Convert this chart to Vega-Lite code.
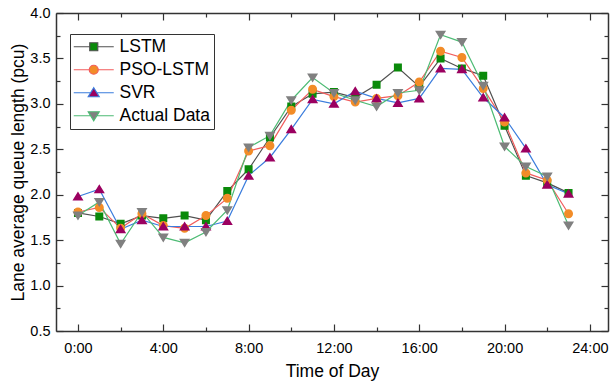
{
  "$schema": "https://vega.github.io/schema/vega-lite/v6.json",
  "width": 552,
  "height": 318,
  "autosize": {"type": "none"},
  "padding": {"left": 56, "top": 13, "right": 2, "bottom": 55},
  "background": "white",
  "config": {
    "view": {"stroke": null},
    "font": "Liberation Sans",
    "axis": {
      "grid": false,
      "domainColor": "#333333",
      "domainWidth": 1.5,
      "tickColor": "#333333",
      "tickWidth": 1.2,
      "labelFont": "Liberation Sans",
      "labelFontSize": 14.5,
      "labelColor": "black",
      "titleFont": "Liberation Sans",
      "titleFontSize": 17.5,
      "titleFontWeight": "normal",
      "titleColor": "black"
    },
    "legend": {
      "orient": "none",
      "legendX": 14,
      "legendY": 21,
      "padding": 4,
      "strokeColor": "#333333",
      "fillColor": "white",
      "symbolSize": 100,
      "symbolOffset": 11,
      "labelOffset": 17,
      "labelFont": "Liberation Sans",
      "labelFontSize": 17.5,
      "labelColor": "black",
      "labelLimit": 300,
      "rowPadding": 4,
      "symbolStrokeWidth": 1.2
    }
  },
  "data": {
    "values": [
      {"hour": 0, "model": "LSTM", "value": 1.80}, {"hour": 1, "model": "LSTM", "value": 1.76}, {"hour": 2, "model": "LSTM", "value": 1.68}, {"hour": 3, "model": "LSTM", "value": 1.77},
      {"hour": 4, "model": "LSTM", "value": 1.74}, {"hour": 5, "model": "LSTM", "value": 1.77}, {"hour": 6, "model": "LSTM", "value": 1.72}, {"hour": 7, "model": "LSTM", "value": 2.04},
      {"hour": 8, "model": "LSTM", "value": 2.28}, {"hour": 9, "model": "LSTM", "value": 2.63}, {"hour": 10, "model": "LSTM", "value": 2.97}, {"hour": 11, "model": "LSTM", "value": 3.11},
      {"hour": 12, "model": "LSTM", "value": 3.13}, {"hour": 13, "model": "LSTM", "value": 3.07}, {"hour": 14, "model": "LSTM", "value": 3.21}, {"hour": 15, "model": "LSTM", "value": 3.40},
      {"hour": 16, "model": "LSTM", "value": 3.19}, {"hour": 17, "model": "LSTM", "value": 3.50}, {"hour": 18, "model": "LSTM", "value": 3.39}, {"hour": 19, "model": "LSTM", "value": 3.31},
      {"hour": 20, "model": "LSTM", "value": 2.76}, {"hour": 21, "model": "LSTM", "value": 2.21}, {"hour": 22, "model": "LSTM", "value": 2.13}, {"hour": 23, "model": "LSTM", "value": 2.02},
      {"hour": 0, "model": "PSO-LSTM", "value": 1.81}, {"hour": 1, "model": "PSO-LSTM", "value": 1.86}, {"hour": 2, "model": "PSO-LSTM", "value": 1.63}, {"hour": 3, "model": "PSO-LSTM", "value": 1.79},
      {"hour": 4, "model": "PSO-LSTM", "value": 1.66}, {"hour": 5, "model": "PSO-LSTM", "value": 1.63}, {"hour": 6, "model": "PSO-LSTM", "value": 1.77}, {"hour": 7, "model": "PSO-LSTM", "value": 1.96},
      {"hour": 8, "model": "PSO-LSTM", "value": 2.48}, {"hour": 9, "model": "PSO-LSTM", "value": 2.54}, {"hour": 10, "model": "PSO-LSTM", "value": 2.93}, {"hour": 11, "model": "PSO-LSTM", "value": 3.16},
      {"hour": 12, "model": "PSO-LSTM", "value": 3.08}, {"hour": 13, "model": "PSO-LSTM", "value": 3.02}, {"hour": 14, "model": "PSO-LSTM", "value": 3.06}, {"hour": 15, "model": "PSO-LSTM", "value": 3.09},
      {"hour": 16, "model": "PSO-LSTM", "value": 3.24}, {"hour": 17, "model": "PSO-LSTM", "value": 3.58}, {"hour": 18, "model": "PSO-LSTM", "value": 3.51}, {"hour": 19, "model": "PSO-LSTM", "value": 3.17},
      {"hour": 20, "model": "PSO-LSTM", "value": 2.80}, {"hour": 21, "model": "PSO-LSTM", "value": 2.24}, {"hour": 22, "model": "PSO-LSTM", "value": 2.16}, {"hour": 23, "model": "PSO-LSTM", "value": 1.79},
      {"hour": 0, "model": "SVR", "value": 1.98}, {"hour": 1, "model": "SVR", "value": 2.06}, {"hour": 2, "model": "SVR", "value": 1.62}, {"hour": 3, "model": "SVR", "value": 1.72},
      {"hour": 4, "model": "SVR", "value": 1.65}, {"hour": 5, "model": "SVR", "value": 1.65}, {"hour": 6, "model": "SVR", "value": 1.65}, {"hour": 7, "model": "SVR", "value": 1.71},
      {"hour": 8, "model": "SVR", "value": 2.21}, {"hour": 9, "model": "SVR", "value": 2.41}, {"hour": 10, "model": "SVR", "value": 2.72}, {"hour": 11, "model": "SVR", "value": 3.05},
      {"hour": 12, "model": "SVR", "value": 3.00}, {"hour": 13, "model": "SVR", "value": 3.14}, {"hour": 14, "model": "SVR", "value": 3.06}, {"hour": 15, "model": "SVR", "value": 3.01},
      {"hour": 16, "model": "SVR", "value": 3.06}, {"hour": 17, "model": "SVR", "value": 3.39}, {"hour": 18, "model": "SVR", "value": 3.38}, {"hour": 19, "model": "SVR", "value": 3.07},
      {"hour": 20, "model": "SVR", "value": 2.85}, {"hour": 21, "model": "SVR", "value": 2.51}, {"hour": 22, "model": "SVR", "value": 2.11}, {"hour": 23, "model": "SVR", "value": 2.01},
      {"hour": 0, "model": "Actual Data", "value": 1.77}, {"hour": 1, "model": "Actual Data", "value": 1.92}, {"hour": 2, "model": "Actual Data", "value": 1.46}, {"hour": 3, "model": "Actual Data", "value": 1.81},
      {"hour": 4, "model": "Actual Data", "value": 1.53}, {"hour": 5, "model": "Actual Data", "value": 1.47}, {"hour": 6, "model": "Actual Data", "value": 1.59}, {"hour": 7, "model": "Actual Data", "value": 1.83},
      {"hour": 8, "model": "Actual Data", "value": 2.52}, {"hour": 9, "model": "Actual Data", "value": 2.65}, {"hour": 10, "model": "Actual Data", "value": 3.04}, {"hour": 11, "model": "Actual Data", "value": 3.29},
      {"hour": 12, "model": "Actual Data", "value": 3.12}, {"hour": 13, "model": "Actual Data", "value": 3.04}, {"hour": 14, "model": "Actual Data", "value": 2.97}, {"hour": 15, "model": "Actual Data", "value": 3.12},
      {"hour": 16, "model": "Actual Data", "value": 3.15}, {"hour": 17, "model": "Actual Data", "value": 3.76}, {"hour": 18, "model": "Actual Data", "value": 3.68}, {"hour": 19, "model": "Actual Data", "value": 3.20},
      {"hour": 20, "model": "Actual Data", "value": 2.53}, {"hour": 21, "model": "Actual Data", "value": 2.31}, {"hour": 22, "model": "Actual Data", "value": 2.20}, {"hour": 23, "model": "Actual Data", "value": 1.66}
    ]
  },
  "resolve": {"axis": {"x": "independent", "y": "independent"}},
  "layer": [
    {
      "mark": {"type": "line", "strokeWidth": 1.2},
      "encoding": {
        "x": {
          "field": "hour", "type": "quantitative",
          "scale": {"domain": [-1.03, 24.85], "nice": false, "zero": false},
          "axis": {
            "orient": "bottom",
            "values": [0, 2, 4, 6, 8, 10, 12, 14, 16, 18, 20, 22, 24],
            "labelExpr": "datum.value % 4 === 0 ? datum.value + ':00' : ''",
            "tickSize": {"condition": {"test": "datum.value % 4 === 0", "value": -7}, "value": -4},
            "labelPadding": 17,
            "title": "Time of Day",
            "titlePadding": 8
          }
        },
        "y": {
          "field": "value", "type": "quantitative",
          "scale": {"domain": [0.5, 4.0], "nice": false, "zero": false},
          "axis": {
            "orient": "left",
            "values": [0.5, 0.75, 1.0, 1.25, 1.5, 1.75, 2.0, 2.25, 2.5, 2.75, 3.0, 3.25, 3.5, 3.75, 4.0],
            "labelExpr": "abs(datum.value * 2 - round(datum.value * 2)) < 0.01 ? format(datum.value, '.1f') : ''",
            "tickSize": {"condition": {"test": "abs(datum.value * 2 - round(datum.value * 2)) < 0.01", "value": -7}, "value": -4},
            "labelPadding": 13,
            "title": "Lane average queue length (pcu)",
            "titlePadding": 2
          }
        },
        "stroke": {
          "field": "model", "type": "nominal",
          "scale": {"domain": ["LSTM", "PSO-LSTM", "SVR", "Actual Data"], "range": ["#505050", "#f25c5c", "#3b7ddd", "#4dbb74"]},
          "legend": {"title": null}
        },
        "detail": {"field": "model"}
      }
    },
    {
      "mark": {"type": "point", "filled": true, "size": 100, "opacity": 1, "strokeWidth": 0},
      "encoding": {
        "x": {
          "field": "hour", "type": "quantitative",
          "scale": {"domain": [-1.03, 24.85], "nice": false, "zero": false},
          "axis": {
            "orient": "top",
            "values": [0, 2, 4, 6, 8, 10, 12, 14, 16, 18, 20, 22, 24],
            "labels": false,
            "tickSize": {"condition": {"test": "datum.value % 4 === 0", "value": -7}, "value": -4},
            "title": null
          }
        },
        "y": {
          "field": "value", "type": "quantitative",
          "scale": {"domain": [0.5, 4.0], "nice": false, "zero": false},
          "axis": {
            "orient": "right",
            "values": [0.5, 0.75, 1.0, 1.25, 1.5, 1.75, 2.0, 2.25, 2.5, 2.75, 3.0, 3.25, 3.5, 3.75, 4.0],
            "labels": false,
            "tickSize": {"condition": {"test": "abs(datum.value * 2 - round(datum.value * 2)) < 0.01", "value": -7}, "value": -4},
            "title": null
          }
        },
        "fill": {
          "field": "model", "type": "nominal",
          "scale": {"domain": ["LSTM", "PSO-LSTM", "SVR", "Actual Data"], "range": ["#0a8a0a", "#f28c28", "#9b0060", "#808080"]},
          "legend": {"title": null}
        },
        "shape": {
          "field": "model", "type": "nominal",
          "scale": {
            "domain": ["LSTM", "PSO-LSTM", "SVR", "Actual Data"],
            "range": [
              "M-4,0H-0.8M0.8,0H4M-0.8,-0.8H0.8V0.8H-0.8Z",
              "M-4,0H-0.9M0.9,0H4M-0.9,0A0.9,0.9,0,1,1,0.9,0A0.9,0.9,0,1,1,-0.9,0Z",
              "M-4,0H-0.6M0.6,0H4M0,-1L1.1,0.8H-1.1Z",
              "M-4,0H-0.6M0.6,0H4M0,1L1.1,-0.8H-1.1Z"
            ]
          },
          "legend": {"title": null}
        }
      }
    }
  ]
}
